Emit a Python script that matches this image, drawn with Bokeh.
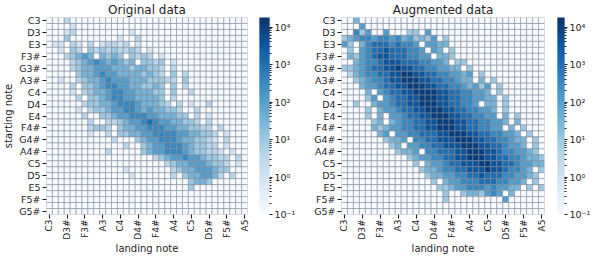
import math
import numpy as np
from bokeh.plotting import figure
from bokeh.models import ColumnDataSource, LogColorMapper, FixedTicker
from bokeh.layouts import row
from bokeh.palettes import Blues256
from bokeh.embed import file_html
from bokeh.resources import INLINE

names = ["C", "C#", "D", "D#", "E", "F", "F#", "G", "G#", "A", "A#", "B"]
def note(i):
    n = names[i % 12]
    return n[0] + str(3 + i // 12) + n[1:]

start_notes = [note(i) for i in range(33)]   # C3 .. G5#  (rows)
land_notes = [note(i) for i in range(34)]    # C3 .. A5   (columns)
y_tick_idx = list(range(0, 33, 2))
x_tick_idx = list(range(0, 34, 3))
cbar_ticks = [0.1, 1, 10, 100, 1000, 10000]
cbar_labels = ["10\u207b\u00b9", "10\u2070", "10\u00b9", "10\u00b2", "10\u00b3", "10\u2074"]
cbar_high = 18000

# one string per starting note; one char per landing note
# '-' empty cell (0.1), '.' zero count (white), digit d -> 10**(d/2 - 0.5)
orig_rows = [
    "---2",
    "----1",
    "---12---------1",
    "---3--------1--2",
    "-11.21-2.12212.1",
    "--1.32.323232232.1",
    "---23454.4343.3232.1",
    "----23456545434.3323.1",
    "----2344555444344332.2",
    "----.344565544443432-3-2",
    "--1--23445655544433322.3",
    "----2.33456655443343.3.2",
    "----1-23445665544433-3--2",
    "-----2.3345665544443.2",
    "------233445666544432-2-1--2",
    "-----1-2334556654544332--2",
    "------2--334556665544433.2-1",
    "-------2.-2234556765544332-2",
    "-------2332.3445566655443322-2",
    "-------1--2-33445566665544332-1",
    "-----------2---34556665443321-2",
    "-------------2-.3455666543322-1",
    "----------2-----34556665433221-1",
    "------------------2345565543322-2",
    "--------------------23445554332-1",
    "-------------1-------2344555433",
    "--------------1------2-3445542-2",
    "------------------------3443",
    "------------------------3",
    "",
    "",
    "",
    "",
]
aug_rows = [
    "--4",
    "---5",
    "--635--5---33-5",
    "3456656656453435-3",
    "53.4677767665.5544",
    "-3.56778777665.54.3",
    "-43567887776655.443",
    "--4566788877766554.33",
    "33456778898877665544.3",
    "-245667788998877665545.3",
    "--34566788999887766544.4-3",
    "---4556778899988776654535-3",
    "----4.5677889999887766554.3",
    "----35.5677889998877665544-3",
    "--3--455677889998877665.44-3",
    "----3.45567788999887766554.3",
    "----3-4.556778899988776655.4-3",
    "-----34.45667788999887766554-4",
    "-----4345566778899988776655.4-3",
    "------45.556677788999887766554-3",
    "-------3445.6677888999887766544-3",
    "--------34.55667788899988776554.3",
    "---------3445.6677788999887665543",
    "-----------34556677889998877665443",
    "------------3.45567788899887765544",
    "-------------3445667788898876654.3",
    "--------------3445566778777665543",
    "---------------3.45566677766554.3",
    "----------------33455666565544.3-3",
    "-----------------3--3443565-4",
    "-----------------3---------5",
    "",
    "",
]

def to_source(rows):
    xs, ys, vs = [], [], []
    for r, line in enumerate(rows):
        line = line.ljust(34, "-")[:34]
        for c, ch in enumerate(line):
            if ch == "-":
                v = 0.1
            elif ch == ".":
                v = float("nan")
            else:
                v = 10 ** (int(ch) / 2 - 0.5)
            xs.append(c); ys.append(r); vs.append(v)
    return ColumnDataSource(dict(x=xs, y=ys, v=vs))

FONT = "DejaVu Sans"
TXT = "#1e1e1e"
palette = list(reversed(Blues256))
mapper = LogColorMapper(palette=palette, low=cbar_ticks[0], high=cbar_high, nan_color="white")

H = 256
TOP, BOTTOM = 12, 36

def heatmap(title, rows, ylabel, bl, br, fw):
    p = figure(width=bl + fw + br, height=H, x_range=(-0.5, 33.5), y_range=(32.5, -0.5),
               output_backend="svg", toolbar_location=None,
               min_border_left=bl, min_border_right=br, min_border_top=TOP, min_border_bottom=BOTTOM)
    p.rect(x="x", y="y", width=1, height=1, source=to_source(rows),
           fill_color={"field": "v", "transform": mapper},
           line_color="#7f8794", line_alpha=0.55, line_width=1)
    p.grid.visible = False
    p.outline_line_color = None
    p.title.text = title
    p.title.align = "center"
    p.title.standoff = 1
    p.title.text_font = FONT
    p.title.text_font_size = "12px"
    p.title.text_font_style = "normal"
    p.title.text_color = TXT
    p.xaxis.ticker = FixedTicker(ticks=x_tick_idx)
    p.xaxis.major_label_overrides = {i: land_notes[i] for i in x_tick_idx}
    p.xaxis.major_label_orientation = math.pi / 2
    p.yaxis.ticker = FixedTicker(ticks=y_tick_idx)
    p.yaxis.major_label_overrides = {i: start_notes[i] for i in y_tick_idx}
    p.xaxis.axis_label = "landing note"
    if ylabel:
        p.yaxis.axis_label = "starting note"
    for ax in (p.xaxis, p.yaxis):
        ax.axis_line_color = None
        ax.major_tick_in = 0
        ax.major_tick_out = 4
        ax.minor_tick_out = 0
        ax.major_tick_line_color = TXT
        ax.minor_tick_line_color = None
        ax.major_label_text_font = FONT
        ax.major_label_text_color = TXT
        ax.major_label_standoff = 2
        ax.axis_label_text_font = FONT
        ax.axis_label_text_font_size = "10px"
        ax.axis_label_text_font_style = "normal"
        ax.axis_label_text_color = TXT
        ax.axis_label_standoff = 2
    p.xaxis.axis_label_standoff = 0
    p.xaxis.major_label_standoff = 1
    p.xaxis.major_label_text_font_size = "9px"
    p.yaxis.major_label_text_font_size = "9.5px"
    return p

minor = [k * 10 ** e for e in range(-1, 5) for k in range(2, 10) if k * 10 ** e < cbar_high]

def colorbar(bl, br, bw):
    cb = figure(width=bl + bw + br, height=H, x_range=(0, 1), y_range=(cbar_ticks[0], cbar_high),
                y_axis_type="log", y_axis_location="right", x_axis_location=None,
                output_backend="svg", toolbar_location=None,
                min_border_left=bl, min_border_right=br, min_border_top=TOP + 1, min_border_bottom=BOTTOM + 1)
    edges = np.logspace(math.log10(cbar_ticks[0]), math.log10(cbar_high), len(palette) + 1)
    cb.quad(left=0, right=1, bottom=edges[:-1], top=edges[1:], fill_color=palette, line_color=palette, line_width=0.6)
    cb.grid.visible = False
    cb.outline_line_color = None
    ax = cb.yaxis
    ax.ticker = FixedTicker(ticks=cbar_ticks, minor_ticks=minor)
    ax.major_label_overrides = dict(zip(cbar_ticks, cbar_labels))
    ax.axis_line_color = None
    ax.major_tick_in = 0
    ax.major_tick_out = 3
    ax.minor_tick_in = 0
    ax.minor_tick_out = 2
    ax.major_tick_line_color = TXT
    ax.minor_tick_line_color = TXT
    ax.major_label_standoff = 2
    ax.major_label_text_font = FONT
    ax.major_label_text_font_size = "9.5px"
    ax.major_label_text_color = TXT
    return cb

p1 = heatmap("Original data", orig_rows, True, 42, 4, 205)
c1 = colorbar(8, 28, 11)
p2 = heatmap("Augmented data", aug_rows, False, 43, 4, 203)
c2 = colorbar(9, 25, 11)
layout = row(p1, c1, p2, c2)
open("out.html", "w").write(file_html(layout, INLINE))
